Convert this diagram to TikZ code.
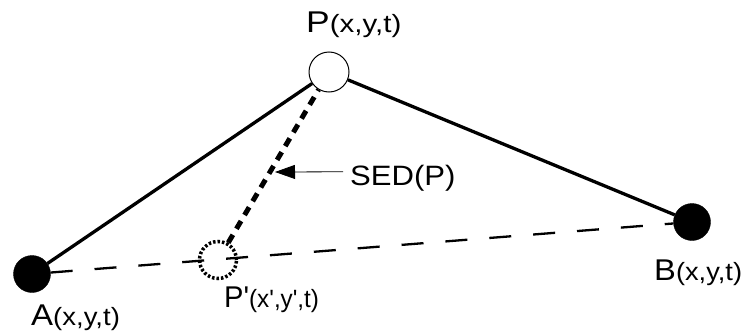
\documentclass[tikz,border=0pt]{standalone}
\usepackage{fontspec}
\setmainfont{Liberation Sans}
\usetikzlibrary{arrows.meta}

\newcommand{\ptname}[1]{{\fontsize{30}{30}\selectfont #1}}
\newcommand{\ptcoord}[1]{{\fontsize{25}{25}\selectfont #1}}

\begin{document}
\begin{tikzpicture}[x=1pt, y=-1pt,
  endpt/.style={circle, draw, fill=black, minimum size=37pt, inner sep=0pt},
  midpt/.style={circle, draw, line width=1pt, fill=white, minimum size=40pt, inner sep=0pt},
  projpt/.style={circle, draw, line width=3.5pt, dash pattern=on 2.5pt off 2pt, minimum size=37pt, inner sep=0pt},
  lbl/.style={anchor=base west, inner sep=0pt}]
\useasboundingbox (0,0) rectangle (743,332);

% points of the trajectory
\node[endpt] (A) at (32,274) {};
\node[endpt] (B) at (692,222) {};
\node[midpt] (P) at (329,72) {};
\node[projpt] (Pp) at (218,260) {};

% labels
\node[lbl] (Alab) at (31,325) {\scalebox{1.1}[1]{\ptname{A}\ptcoord{(x,y,t)}}};
\node[lbl] (Blab) at (654,280) {\scalebox{1.09}[1]{\ptname{B}\ptcoord{(x,y,t)}}};
\node[lbl] (Plab) at (306,32) {\scalebox{1.18}[1]{\ptname{P}\ptcoord{(x,y,t)}}};
\node[lbl] (Pplab) at (224,307) {\scalebox{0.97}[1]{\ptname{P\textquotesingle}\ptcoord{(x\textquotesingle,y\textquotesingle,t)}}};
\node[lbl, font=\fontsize{28}{28}\selectfont] (sed) at (350,185) {\scalebox{1.11}[1]{SED(P)}};

% segments
\draw[line width=2.3pt, dash pattern=on 22pt off 22pt] (A) -- (B);
\draw[line width=3.3pt] (A) -- (P);
\draw[line width=3.3pt] (P) -- (B);
\draw[line width=5pt, dash pattern=on 9pt off 7pt] (Pp) -- (P);

% distance pointer
\coordinate (sedtip) at (275,172);
\draw[line width=0.8pt, -{Triangle[length=20pt, width=14pt]}, shorten <=7pt] ([yshift=6pt]sed.west) -- (sedtip);
\end{tikzpicture}
\end{document}
